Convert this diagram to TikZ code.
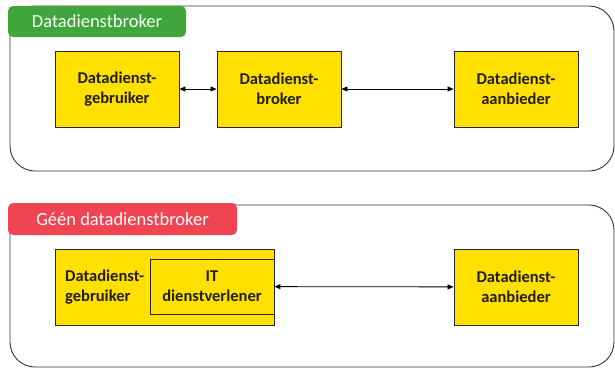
\documentclass[tikz,border=0pt]{standalone}
\usepackage{fontspec}
\setmainfont{Carlito}
\usetikzlibrary{positioning,arrows.meta}

\definecolor{boxyellow}{RGB}{255,224,0}
\definecolor{tabgreen}{RGB}{62,166,58}
\definecolor{tabred}{RGB}{240,68,82}
\definecolor{boxtext}{RGB}{34,30,0}

\begin{document}
\begin{tikzpicture}[x=1pt, y=-1pt,
  panel/.style={draw=black!80, line width=0.9pt, rounded corners=25pt, minimum width=604pt, inner sep=0pt},
  tab/.style={rounded corners=5pt, text=white, font=\fontsize{18.5}{22}\selectfont, inner sep=0pt},
  ybox/.style={draw=black!85, line width=0.9pt, fill=boxyellow, minimum width=124pt, minimum height=76pt,
    inner sep=0pt, align=center, font=\fontsize{16.5}{20}\selectfont\bfseries, text=boxtext},
  lbl/.style={font=\fontsize{16.5}{20}\selectfont\bfseries, text=boxtext, align=left, inner sep=0pt},
  link/.style={draw=black, line width=0.8pt, {Triangle[length=6pt,width=5pt]}-{Triangle[length=6pt,width=5pt]}}
]
\useasboundingbox (0,0) rectangle (615,368);

% met datadienstbroker
\node[panel, minimum height=165pt] (pnl1) at (312,88.5) {};
\node[tab, fill=tabgreen, minimum width=178pt, minimum height=31pt] (tab1) at (97,21.5) {Datadienstbroker};
\node[ybox] (gebr1) at (117,89) {Datadienst-\\gebruiker};
\node[ybox] (brok1) at (279,89) {Datadienst-\\broker};
\node[ybox] (aanb1) at (516,89) {Datadienst-\\aanbieder};
\draw[link] (gebr1) -- (brok1);
\draw[link] (brok1) -- (aanb1);

% zonder datadienstbroker
\node[panel, minimum height=162pt] (pnl2) at (312,286) {};
\node[tab, fill=tabred, minimum width=229pt, minimum height=32pt] (tab2) at (122.5,219) {Géén datadienstbroker};
\node[ybox, minimum width=219pt] (gebr2) at (164.5,287) {};
\node[lbl, anchor=west] (gebrlbl) at (65,287) {Datadienst-\\gebruiker};
\node[ybox, minimum height=55pt] (itdv) at (212,286.5) {IT\\dienstverlener};
\node[ybox] (aanb2) at (516,287) {Datadienst-\\aanbieder};
\draw[link] (itdv) -- (aanb2);

\end{tikzpicture}
\end{document}
